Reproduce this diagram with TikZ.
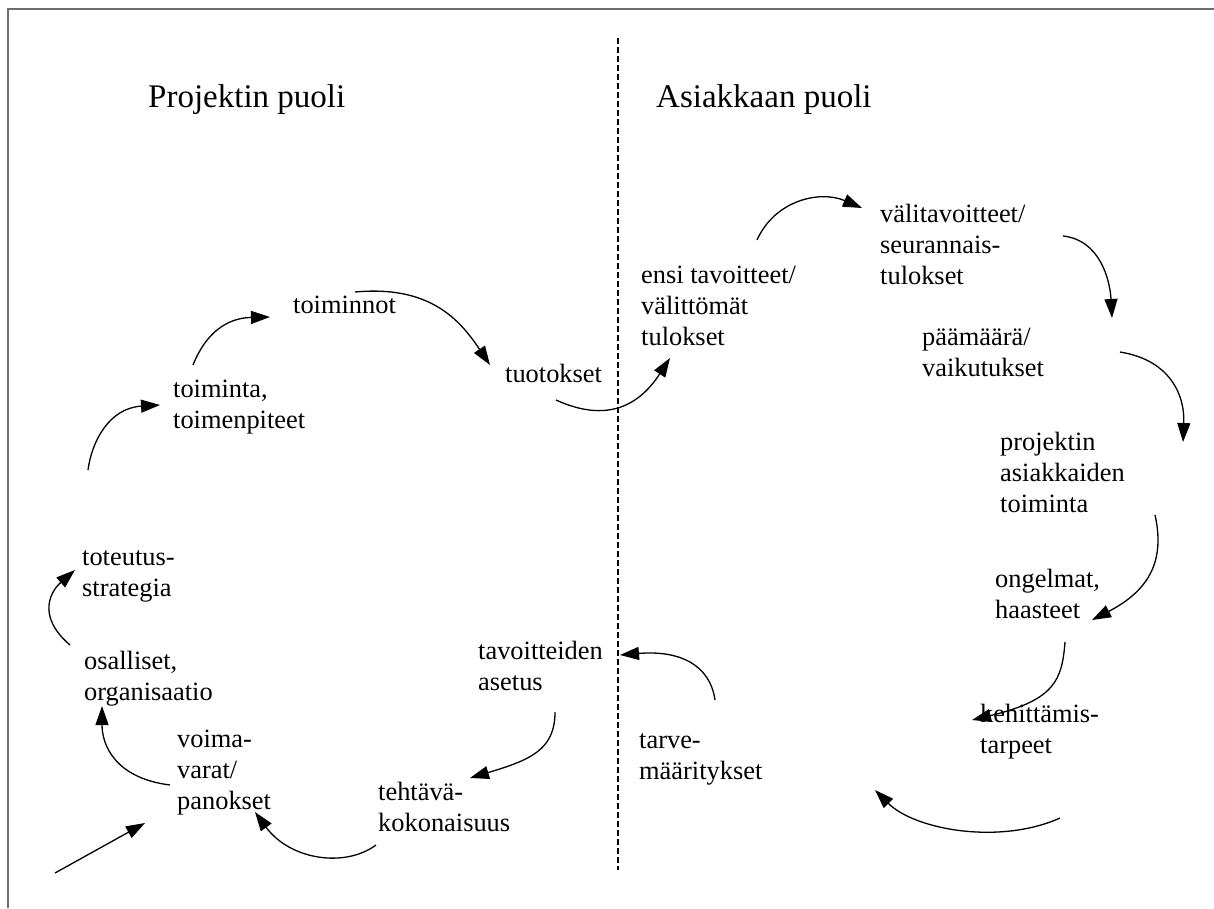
\documentclass[tikz,border=0pt]{standalone}
\usepackage{fontspec}
\setmainfont{Liberation Serif}
\usetikzlibrary{arrows.meta}
\definecolor{framegray}{HTML}{6D6D6D}
% left-aligned line stack whose baseline is that of its first line
\newcommand{\lns}[1]{\begin{tabular}[t]{@{}l@{}}#1\end{tabular}}

\begin{document}
\begin{tikzpicture}[x=1pt,y=-1pt,
  lbl/.style={anchor=base west, inner sep=0pt, font=\fontsize{26.4}{31}\selectfont},
  head/.style={anchor=base west, inner sep=0pt, font=\fontsize{33}{38}\selectfont},
  flow/.style={line width=1.3pt, -{Triangle[length=19pt,width=13pt]}},
  frameline/.style={line width=2pt, draw=framegray},
  divider/.style={line width=1.3pt, dash pattern=on 6pt off 3pt}]

\useasboundingbox (0,0) rectangle (1214,908);

% open frame and the dashed divider between the two halves
\draw[frameline] (8,908) -- (8,9) -- (1214,9);
\draw[divider] (618,38) -- (618,870);

% headings
\node[head] (hp) at (148,107) {Projektin puoli};
\node[head] (ha) at (656,107) {Asiakkaan puoli};

% project side
\node[lbl] (voima)   at (177,747) {\lns{voima-\\varat/\\panokset}};
\node[lbl] (osall)   at (84,669)  {\lns{osalliset,\\organisaatio}};
\node[lbl] (toteu)   at (82,565)  {\lns{toteutus-\\strategia}};
\node[lbl] (toimi)   at (173,397) {\lns{toiminta,\\toimenpiteet}};
\node[lbl] (toimnot) at (293,313) {toiminnot};
\node[lbl] (tuot)    at (505,382) {tuotokset};
\node[lbl] (tavo)    at (478,659) {\lns{tavoitteiden\\asetus}};
\node[lbl] (teht)    at (378,800) {\lns{tehtävä-\\kokonaisuus}};

% client side
\node[lbl] (ensi)  at (641,283)  {\lns{ensi tavoitteet/\\välittömät\\tulokset}};
\node[lbl] (vali)  at (880,222)  {\lns{välitavoitteet/\\seurannais-\\tulokset}};
\node[lbl] (paam)  at (922,345)  {\lns{päämäärä/\\vaikutukset}};
\node[lbl] (proj)  at (1000,450) {\lns{projektin\\asiakkaiden\\toiminta}};
\node[lbl] (ong)   at (995,587)  {\lns{ongelmat,\\haasteet}};
\node[lbl] (keh)   at (980,722)  {\lns{kehittämis-\\tarpeet}};
\node[lbl] (tarve) at (639,748)  {\lns{tarve-\\määritykset}};

% incoming resources
\coordinate (entry) at (55,873);
\draw[flow] (entry) -- ([shift={(-32,76)}]voima.base west);

% the cycle
\draw[flow] ([shift={(-7,38)}]voima.base west)
  .. controls (115,778) and (102,745) .. ([shift={(18,37)}]osall.base west);
\draw[flow] ([shift={(-14,-24)}]osall.base west)
  .. controls (35,615) and (52,590) .. ([shift={(-7,5)}]toteu.base west);
\draw[flow] ([shift={(6,-95)}]toteu.base west)
  .. controls (92,440) and (110,408) .. ([shift={(-13,8)}]toimi.base west);
\draw[flow] ([shift={(20,-32)}]toimi.base west)
  .. controls (205,335) and (225,318) .. ([shift={(-23,4)}]toimnot.base west);
\draw[flow] ([shift={(62,-21)}]toimnot.base west)
  .. controls (430,285) and (460,320) .. ([shift={(-15,-17)}]tuot.base west);
\draw[flow] ([shift={(51,18)}]tuot.base west)
  .. controls (600,420) and (635,412) .. ([shift={(29,75)}]ensi.base west);
\draw[flow] ([shift={(116,-43)}]ensi.base west)
  .. controls (775,200) and (820,190) .. ([shift={(-18,-14)}]vali.base west);
\draw[flow] ([shift={(183,14)}]vali.base west)
  .. controls (1100,240) and (1110,280) .. ([shift={(190,-27)}]paam.base west);
\draw[flow] ([shift={(198,7)}]paam.base west)
  .. controls (1170,360) and (1185,395) .. ([shift={(183,-8)}]proj.base west);
\draw[flow] ([shift={(155,65)}]proj.base west)
  .. controls (1165,560) and (1150,590) .. ([shift={(97,33)}]ong.base west);
\draw[flow] ([shift={(70,55)}]ong.base west)
  .. controls (1062,680) and (1055,700) .. ([shift={(-8,-2)}]keh.base west);
\draw[flow] ([shift={(80,96)}]keh.base west)
  .. controls (1000,845) and (915,830) .. ([shift={(236,42)}]tarve.base west);
\draw[flow] ([shift={(76,-48)}]tarve.base west)
  .. controls (710,665) and (680,650) .. ([shift={(142,-4)}]tavo.base west);
\draw[flow] ([shift={(77,53)}]tavo.base west)
  .. controls (555,750) and (530,760) .. ([shift={(92,-22)}]teht.base west);
\draw[flow] ([shift={(-2,45)}]teht.base west)
  .. controls (345,868) and (290,860) .. ([shift={(78,65)}]voima.base west);
\end{tikzpicture}
\end{document}
